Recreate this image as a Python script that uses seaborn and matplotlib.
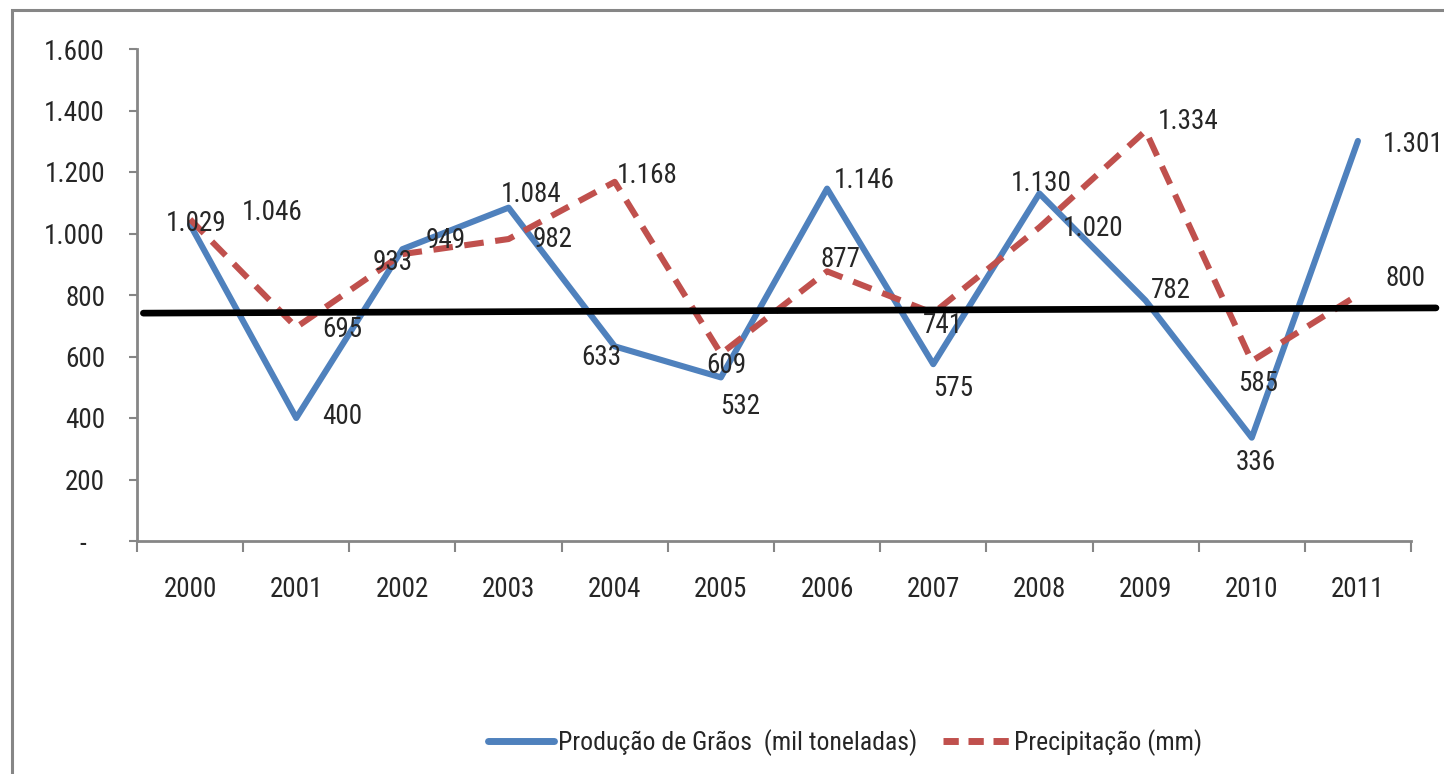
import pandas
import matplotlib
matplotlib.use("Agg")
import matplotlib.pyplot as pyplot
import matplotlib.ticker as ticker
from matplotlib import font_manager
from matplotlib.patches import Rectangle
import seaborn

# data
anos = ["2000", "2001", "2002", "2003", "2004", "2005",
        "2006", "2007", "2008", "2009", "2010", "2011"]
producao = [1029, 400, 949, 1084, 633, 532, 1146, 575, 1130, 782, 336, 1301]
precipitacao = [1046, 695, 933, 982, 1168, 609, 877, 741, 1020, 1334, 585, 800]
linha_media = [741, 758]  # black reference line, start / end value

serie_prod = "Produção de Grãos  (mil toneladas)"
serie_prec = "Precipitação (mm)"

# label offsets in pixels (dx, dy) for the data labels
off_prod = [(6, 1), (46, 1), (43, 9), (23, 13), (-13, -11), (19, -29),
            (37, 8), (20, -24), (2, 10), (25, 10), (4, -25), (55, -4)]
off_prec = [(82, 7), (46, -2), (-10, -8), (44, 0), (32, 6), (5, -12),
            (13, 12), (10, -12), (54, -1), (43, 9), (6, -22), (48, 16)]

# style
seaborn.set_style("white")
nomes = {f.name for f in font_manager.fontManager.ttflist}
fonte = "DejaVu Sans"
for cand in ["Liberation Sans Narrow", "Roboto Condensed", "Open Sans Condensed",
             "DejaVu Sans Condensed"]:
    if cand in nomes:
        fonte = cand
        break
pyplot.rcParams["font.family"] = [fonte, "DejaVu Sans"]
pyplot.rcParams["font.stretch"] = "condensed"
pyplot.rcParams["font.size"] = 19
tam = 19.5 if fonte != "DejaVu Sans" else 18

azul = "#4F81BD"
vermelho = "#C0504D"
cinza = "#868686"

df = pandas.DataFrame({
    "pos": list(range(len(anos))) * 2,
    "valor": producao + precipitacao,
    "serie": [serie_prod] * len(anos) + [serie_prec] * len(anos),
})

fig = pyplot.figure(figsize=(14.44, 7.74), dpi=100)
ax = fig.add_axes([137 / 1444, 1 - 541 / 774, 1274 / 1444, 492 / 774])

seaborn.lineplot(
    data=df, x="pos", y="valor", hue="serie", style="serie",
    palette={serie_prod: azul, serie_prec: vermelho},
    dashes={serie_prod: "", serie_prec: (3.2, 1.9)},
    linewidth=4.4, ax=ax, legend=True,
)

# black reference line (x in axes fraction, y in data)
ax.plot([0.005, 1.0196], linha_media, color="black", lw=4.8,
        transform=ax.get_yaxis_transform(), clip_on=False, zorder=3)


def fmt_num(v):
    return f"{v:,}".replace(",", ".")


for i, v in enumerate(producao):
    ax.annotate(fmt_num(v), (i, v), xytext=off_prod[i], textcoords="offset pixels",
                ha="center", va="center", fontsize=tam, annotation_clip=False,
                zorder=4)
for i, v in enumerate(precipitacao):
    ax.annotate(fmt_num(v), (i, v), xytext=off_prec[i], textcoords="offset pixels",
                ha="center", va="center", fontsize=tam, annotation_clip=False,
                zorder=4)

# axes
ax.set_xlim(-0.5, len(anos) - 0.5)
ax.set_ylim(0, 1600)
ax.set_xlabel("")
ax.set_ylabel("")
ax.yaxis.set_major_locator(ticker.MultipleLocator(200))
ax.yaxis.set_major_formatter(ticker.FuncFormatter(
    lambda v, p: "-   " if v == 0 else fmt_num(int(v))))
ax.set_xticks([i - 0.5 for i in range(len(anos) + 1)])
ax.set_xticklabels([])
ax.set_xticks(range(len(anos)), minor=True)
ax.set_xticklabels(anos, minor=True)
ax.tick_params(axis="x", which="major", direction="out", length=8, width=1.5,
               color=cinza, bottom=True)
ax.tick_params(axis="x", which="minor", length=0, pad=25, labelsize=tam)
ax.tick_params(axis="y", direction="out", length=6, width=1.5, color=cinza,
               left=True, pad=17, labelsize=tam)

for side in ["top", "right"]:
    ax.spines[side].set_visible(False)
for side in ["left", "bottom"]:
    ax.spines[side].set_color(cinza)
    ax.spines[side].set_linewidth(2)

# legend
handles, labels = ax.get_legend_handles_labels()
leg = ax.legend(handles, labels, loc="center", bbox_to_anchor=(0.585, 0.041),
                bbox_transform=fig.transFigure, ncol=2, frameon=False,
                fontsize=18.5, handlelength=2.6, handletextpad=0.15,
                columnspacing=1.0)
for ln in leg.get_lines():
    ln.set_linewidth(5)
leg.get_lines()[1].set_dashes((2.2, 1.4))

# outer chart border (left and top visible)
fig.patches.append(Rectangle((12 / 1444, -0.2), 1.2, 1.2 - 10 / 774,
                             transform=fig.transFigure, fill=False,
                             edgecolor=cinza, lw=2.2, zorder=0))

fig.savefig("out.png", dpi=100)
